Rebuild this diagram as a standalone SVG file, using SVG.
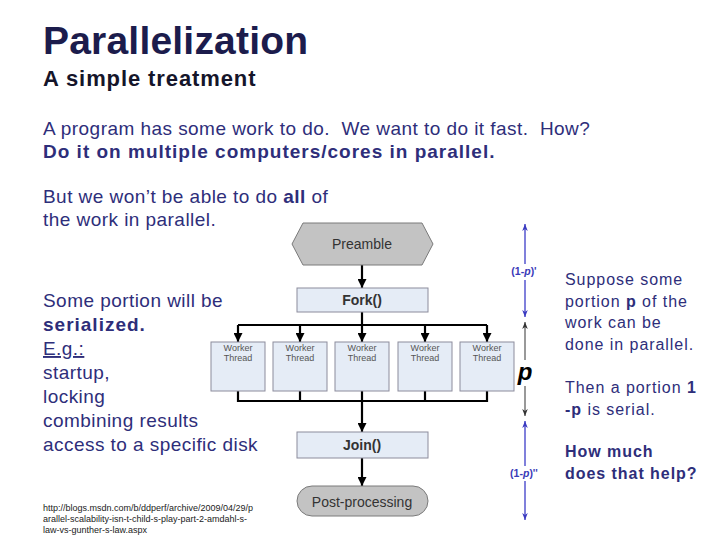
<svg xmlns="http://www.w3.org/2000/svg" width="720" height="540" viewBox="0 0 720 540">
<defs>
<marker id="ah" viewBox="0 0 10 10" refX="10" refY="5" markerWidth="9" markerHeight="9" markerUnits="userSpaceOnUse" orient="auto"><path d="M0,0 L10,5 L0,10 z" fill="#000"/></marker>
<marker id="bh" viewBox="0 0 10 10" refX="10" refY="5" markerWidth="7" markerHeight="7" markerUnits="userSpaceOnUse" orient="auto-start-reverse"><path d="M0,1 L10,5 L0,9 L3,5 z" fill="#3a3ac0"/></marker>
<marker id="gh" viewBox="0 0 10 10" refX="10" refY="5" markerWidth="7" markerHeight="7" markerUnits="userSpaceOnUse" orient="auto-start-reverse"><path d="M0,1 L10,5 L0,9 L3,5 z" fill="#333"/></marker>
</defs>
<style>
text{font-family:"Liberation Sans",Arial,sans-serif}
.body{font-size:19px;fill:#2e2e7a;letter-spacing:0.45px}
.bb{font-weight:bold;letter-spacing:1px}
.rt{font-size:16px;fill:#2e2e7a;letter-spacing:0.95px}
.wk{font-size:9px;fill:#555;text-anchor:middle}
.worker{fill:#e5ecf6;stroke:#8c8c9c;stroke-width:1}
.blue{fill:#e5ecf6;stroke:#8c8c9c;stroke-width:1}
.gray{fill:#c3c3c3;stroke:#7a7a7a;stroke-width:1}
.lbl{font-size:14px;fill:#333;text-anchor:middle}
.conn{stroke:#000;stroke-width:2.2;fill:none}
.dimb{stroke:#4a4acc;stroke-width:1.4;fill:none}
.dimg{stroke:#555;stroke-width:1.2;fill:none}
.dl{font-size:10.5px;font-weight:bold;fill:#3a3ab8;text-anchor:middle}
</style>
<rect width="720" height="540" fill="#fff"/>
<g id="title">
<text x="43" y="54" font-size="39" font-weight="bold" fill="#1c1c4c" letter-spacing="0.2">Parallelization</text>
<text x="43" y="86" font-size="22" font-weight="bold" fill="#15152a" letter-spacing="0.9">A simple treatment</text>
</g>
<g id="intro">
<text class="body" x="43" y="135" style="white-space:pre" xml:space="preserve">A program has some work to do.  We want to do it fast.  How?</text>
<text class="body bb" x="43" y="158">Do it on multiple computers/cores in parallel.</text>
<text class="body" x="43" y="203">But we won’t be able to do <tspan font-weight="bold">all</tspan> of</text>
<text class="body" x="43" y="226">the work in parallel.</text>
</g>
<g id="left-text">
<text class="body" x="43" y="307">Some portion will be</text>
<text class="body bb" x="43" y="331">serialized.</text>
<text class="body" x="43" y="355" text-decoration="underline">E.g.:</text>
<text class="body" x="43" y="379">startup,</text>
<text class="body" x="43" y="403">locking</text>
<text class="body" x="43" y="427">combining results</text>
<text class="body" x="43" y="451">access to a specific disk</text>
</g>
<g id="url" font-size="9" fill="#222">
<text x="43" y="511">http://blogs.msdn.com/b/ddperf/archive/2009/04/29/p</text>
<text x="43" y="522">arallel-scalability-isn-t-child-s-play-part-2-amdahl-s-</text>
<text x="43" y="533">law-vs-gunther-s-law.aspx</text>
</g>
<g id="right-text">
<text class="rt" x="565" y="285">Suppose some</text>
<text class="rt" x="565" y="307">portion <tspan font-weight="bold">p</tspan> of the</text>
<text class="rt" x="565" y="328">work can be</text>
<text class="rt" x="565" y="350">done in parallel.</text>
<text class="rt" x="565" y="393">Then a portion <tspan font-weight="bold">1</tspan></text>
<text class="rt" x="565" y="415"><tspan font-weight="bold">-p</tspan> is serial.</text>
<text class="rt" x="565" y="457" font-weight="bold">How much</text>
<text class="rt" x="565" y="479" font-weight="bold">does that help?</text>
</g>
<g id="connectors">
<path class="conn" d="M362,265 V288" marker-end="url(#ah)"/>
<path class="conn" d="M362,312 V325"/>
<path class="conn" d="M238,325 H487"/>
<path class="conn" d="M238,325 V342" marker-end="url(#ah)"/>
<path class="conn" d="M300,325 V342" marker-end="url(#ah)"/>
<path class="conn" d="M362,325 V342" marker-end="url(#ah)"/>
<path class="conn" d="M425,325 V342" marker-end="url(#ah)"/>
<path class="conn" d="M487,325 V342" marker-end="url(#ah)"/>
<path class="conn" d="M238,391 V401 H487 V391"/>
<path class="conn" d="M300,391 V401"/>
<path class="conn" d="M362,391 V401"/>
<path class="conn" d="M425,391 V401"/>
<path class="conn" d="M362,401 V432" marker-end="url(#ah)"/>
<path class="conn" d="M362,458 V486" marker-end="url(#ah)"/>
</g>
<g id="preamble">
<polygon class="gray" points="292,244 303,223 422,223 433,244 422,265 303,265"/>
<text class="lbl" x="362" y="249">Preamble</text>
</g>
<g id="fork">
<rect class="blue" x="297" y="288" width="131" height="24"/>
<text class="lbl" x="362" y="305" font-weight="bold">Fork()</text>
</g>
<g id="worker1"><rect class="worker" x="211" y="342" width="54" height="49"/><text class="wk" x="238" y="351">Worker</text><text class="wk" x="238" y="361">Thread</text></g>
<g id="worker2"><rect class="worker" x="273" y="342" width="54" height="49"/><text class="wk" x="300" y="351">Worker</text><text class="wk" x="300" y="361">Thread</text></g>
<g id="worker3"><rect class="worker" x="335" y="342" width="54" height="49"/><text class="wk" x="362" y="351">Worker</text><text class="wk" x="362" y="361">Thread</text></g>
<g id="worker4"><rect class="worker" x="398" y="342" width="54" height="49"/><text class="wk" x="425" y="351">Worker</text><text class="wk" x="425" y="361">Thread</text></g>
<g id="worker5"><rect class="worker" x="460" y="342" width="54" height="49"/><text class="wk" x="487" y="351">Worker</text><text class="wk" x="487" y="361">Thread</text></g>
<g id="join">
<rect class="blue" x="297" y="432" width="131" height="26"/>
<text class="lbl" x="362" y="450" font-weight="bold">Join()</text>
</g>
<g id="post">
<rect class="gray" x="297" y="486" width="131" height="30" rx="15" ry="15"/>
<text class="lbl" x="362" y="507" font-size="15">Post-processing</text>
</g>
<g id="dimensions">
<path class="dimb" d="M525,264 V224" marker-end="url(#bh)"/>
<path class="dimb" d="M525,280 V317" marker-end="url(#bh)"/>
<text class="dl" x="524" y="275">(1-<tspan font-style="italic">p</tspan>)'</text>
<path class="dimg" d="M525,360 V322" marker-end="url(#gh)"/>
<path class="dimg" d="M525,386 V416" marker-end="url(#gh)"/>
<text x="525" y="380" font-size="24" font-weight="bold" font-style="italic" fill="#000" text-anchor="middle">p</text>
<path class="dimb" d="M525,466 V421" marker-end="url(#bh)"/>
<path class="dimb" d="M525,481 V520" marker-end="url(#bh)"/>
<text class="dl" x="524" y="477">(1-<tspan font-style="italic">p</tspan>)''</text>
</g>
</svg>
